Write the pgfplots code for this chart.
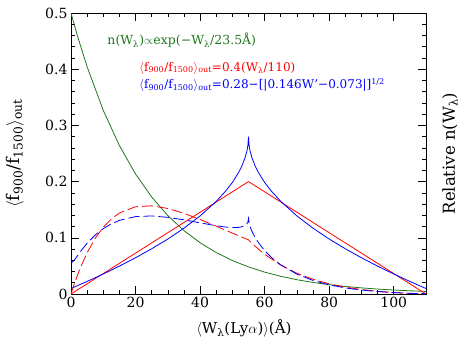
\documentclass[border=0pt]{standalone}
\usepackage{fontspec}
\setmainfont{DejaVu Serif}
\usepackage{pgfplots}
\pgfplotsset{compat=1.18}
\definecolor{dgreen}{RGB}{30,120,30}
\newcommand{\sub}[1]{\textsubscript{#1}}
\begin{document}
\begin{tikzpicture}
\begin{axis}[
  name=ax,
  scale only axis, width=355pt, height=281pt,
  xmin=0, xmax=110, ymin=0, ymax=0.5,
  xtick={0,20,40,60,80,100}, minor x tick num=3,
  ytick={0,0.1,0.2,0.3,0.4,0.5}, minor y tick num=4,
  tick align=inside, xtick pos=both, ytick pos=both,
  xticklabel pos=left, yticklabel pos=left,
  major tick length=8pt, minor tick length=4pt,
  /pgf/number format/assume math mode=true,
  yticklabel style={/pgf/number format/fixed, /pgf/number format/precision=1},
  tick label style={font=\fontsize{14}{16}\selectfont},
  every axis label/.append style={font=\fontsize{15}{18}\selectfont},
  xlabel={$\langle$W\sub{λ}(Ly$\alpha$)$\rangle$(Å)},
  ylabel={$\langle$f\sub{900}/f\sub{1500}$\rangle$\sub{out}},
  xlabel style={at={(axis description cs:0.487,-0.121)}, anchor=center},
  ylabel style={at={(axis description cs:-0.158,0.5)}, anchor=center, font=\fontsize{17.5}{20}\selectfont},
  axis line style={line width=0.8pt},
  every tick/.style={line width=0.6pt, black},
]
% green: n(W)
\addplot[dgreen, line width=0.8pt] coordinates {
(0,0.5) (2,0.4592) (5,0.4042) (10,0.3267) (15,0.2641) (20,0.2135) (25,0.1726)
(30,0.1395) (35,0.1128) (40,0.0912) (45,0.0737) (50,0.0596) (55,0.0482)
(60,0.0389) (65,0.0315) (70,0.0254) (75,0.0206) (80,0.0166) (85,0.0134)
(90,0.0109) (95,0.0088) (100,0.0071) (105,0.0057) (110,0.0046)};
% red solid
\addplot[red, line width=0.8pt] coordinates {(0,0) (55,0.2) (110,0)};
% blue solid
\addplot[blue, line width=0.8pt] coordinates {
(0,0.0098) (5,0.0224) (10,0.0356) (15,0.0496) (20,0.0645) (25,0.0805) (30,0.0978)
(35,0.1171) (40,0.1389) (45,0.1648) (48,0.1836) (50,0.1985) (52,0.2169) (53,0.2285)
(54,0.2436) (54.5,0.2542) (54.8,0.2637) (55,0.28)
(55.2,0.2637) (55.5,0.2542) (56,0.2436) (57,0.2285) (58,0.2169) (60,0.1985) (62,0.1836)
(65,0.1648) (70,0.1389) (75,0.1171) (80,0.0978) (85,0.0805) (90,0.0645) (95,0.0496)
(100,0.0356) (105,0.0224) (110,0.0098)};
% red dashed
\addplot[red, line width=0.8pt, dash pattern=on 11pt off 4pt] coordinates {
(0,0) (1,0.0174) (2,0.0334) (3,0.0480) (5,0.0735) (7.5,0.0991) (10,0.1188)
(12.5,0.1335) (15,0.1441) (20,0.1553) (25,0.1569) (30,0.1522) (35,0.1435)
(40,0.1326) (45,0.1206) (50,0.1083) (55,0.0963) (56,0.0906) (58,0.0802)
(60,0.0707) (65,0.0515) (70,0.0370) (75,0.0262) (80,0.0181) (85,0.0122)
(90,0.0079) (95,0.0048) (100,0.0026) (105,0.0010) (110,0)};
% blue dashed
\addplot[blue, line width=0.8pt, dash pattern=on 11pt off 4pt] coordinates {
(0,0.055) (1,0.0600) (2,0.0680) (3,0.0761) (5,0.0905) (7.5,0.1050) (10,0.1163)
(12.5,0.1248) (15,0.1310) (20,0.1377) (25,0.1389) (30,0.1364) (35,0.1320)
(40,0.1266) (45,0.1215) (48,0.1191) (50,0.1182) (52,0.1186) (53,0.1197)
(54,0.1224) (54.5,0.1251) (54.8,0.1280) (55,0.1348) (55.2,0.1259) (55.5,0.1199)
(56,0.1124) (57,0.1010) (58,0.0920) (60,0.0772) (62,0.0656) (65,0.0518)
(70,0.0353) (75,0.0241) (80,0.0162) (85,0.0108) (90,0.0070) (95,0.0044)
(100,0.0025) (105,0.0013) (110,0.0005)};
\node[anchor=west, text=dgreen, font=\fontsize{12.5}{14}\selectfont] at (axis cs:10.2,0.452)
  {n(W\sub{λ})$\propto$exp(−W\sub{λ}/23.5Å)};
\node[anchor=west, text=red, font=\fontsize{12}{14}\selectfont] at (axis cs:20.1,0.402)
  {$\langle$f\sub{900}/f\sub{1500}$\rangle$\sub{out}=0.4(W\sub{λ}/110)};
\node[anchor=west, text=blue, font=\fontsize{12}{14}\selectfont] at (axis cs:20.1,0.372)
  {$\langle$f\sub{900}/f\sub{1500}$\rangle$\sub{out}=0.28−[|0.146W'−0.073|]\textsuperscript{1/2}};
\end{axis}
\node[rotate=90, anchor=center, font=\fontsize{16.5}{18}\selectfont] at ([xshift=24pt]ax.east) {Relative n(W\sub{λ})};
\pgfresetboundingbox
\path[use as bounding box] ([shift={(-71pt,-52pt)}]ax.south west) rectangle ([shift={(37pt,13pt)}]ax.north east);
\end{tikzpicture}
\end{document}
